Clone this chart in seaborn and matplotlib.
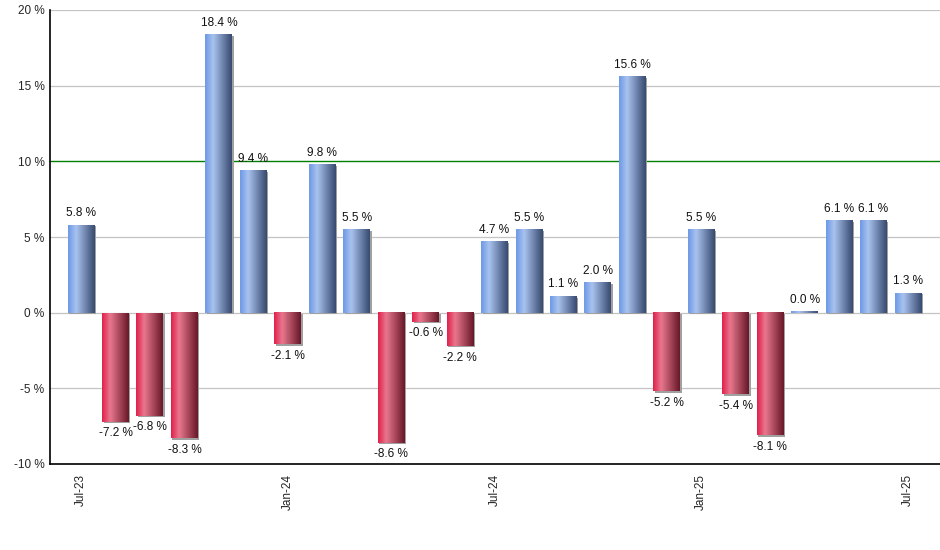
import matplotlib.pyplot as plt
import matplotlib.transforms as mtransforms
from matplotlib.colors import LinearSegmentedColormap
import seaborn as sns
import numpy as np
import pandas as pd

plt.switch_backend('Agg')

months = ['Jul-23', 'Aug-23', 'Sep-23', 'Oct-23', 'Nov-23', 'Dec-23',
          'Jan-24', 'Feb-24', 'Mar-24', 'Apr-24', 'May-24', 'Jun-24',
          'Jul-24', 'Aug-24', 'Sep-24', 'Oct-24', 'Nov-24', 'Dec-24',
          'Jan-25', 'Feb-25', 'Mar-25', 'Apr-25', 'May-25', 'Jun-25',
          'Jul-25']
returns = [5.8, -7.2, -6.8, -8.3, 18.4, 9.4,
           -2.1, 9.8, 5.5, -8.6, -0.6, -2.2,
           4.7, 5.5, 1.1, 2.0, 15.6, -5.2,
           5.5, -5.4, -8.1, 0.0, 6.1, 6.1,
           1.3]
tick_months = ['Jul-23', 'Jan-24', 'Jul-24', 'Jan-25', 'Jul-25']
target = 10

df = pd.DataFrame({'month': months, 'ret': returns})

sns.set_style('white')
plt.rcParams['font.family'] = ['Liberation Sans', 'DejaVu Sans']

fig = plt.figure(figsize=(9.4, 5.5), dpi=100)
ax = fig.add_axes([50 / 940, 86 / 550, 890 / 940, 454 / 550])

sns.barplot(data=df, x='month', y='ret', order=months, width=0.78,
            color='#a0a0a0', ax=ax, zorder=3)

blue_cmap = LinearSegmentedColormap.from_list(
    'blue', [(0, '#6d99e6'), (0.3, '#a9c3ef'), (1, '#384a70')])
red_cmap = LinearSegmentedColormap.from_list(
    'red', [(0, '#e0204a'), (0.3, '#e9788f'), (1, '#681828')])
grad = np.linspace(0, 1, 64).reshape(1, -1)

# gray base patch is shifted to act as a drop shadow
shadow = mtransforms.offset_copy(ax.transData, fig=fig, x=1.5, y=-1.5, units='dots')

for patch, val in zip(ax.patches, returns):
    x0 = patch.get_x()
    w = patch.get_width()
    y0, y1 = sorted([0, val])
    if y1 - y0 < 0.08:
        y1 = y0 + 0.08
    patch.set_transform(shadow)
    patch.set_linewidth(0)
    cmap = blue_cmap if val >= 0 else red_cmap
    ax.imshow(grad, cmap=cmap, aspect='auto', extent=[x0, x0 + w, y0, y1],
              zorder=4, interpolation='bicubic')
    if val >= 0:
        ax.annotate(f'{val:.1f} %', (x0 + w / 2, y1), xytext=(0, 4),
                    textcoords='offset points', ha='center', va='bottom',
                    fontsize=8.5, color='#111111', zorder=5)
    else:
        ax.annotate(f'{val:.1f} %', (x0 + w / 2, y0), xytext=(0, -4),
                    textcoords='offset points', ha='center', va='top',
                    fontsize=8.5, color='#111111', zorder=5)

for yv in [-5, 0, 5, 15, 20]:
    ax.axhline(yv, color='#c4c4c4', linewidth=0.9, zorder=1)
ax.axhline(target, color='#008000', linewidth=1.0, zorder=2)

ax.set_xlim(-0.9, 24.93)
ax.set_ylim(-10, 20)
ax.set_yticks(range(-10, 21, 5))
ax.set_yticklabels([f'{v} %' for v in range(-10, 21, 5)], fontsize=8.5)
ax.set_xticks([months.index(m) for m in tick_months])
ax.set_xticklabels(tick_months, rotation=90, fontsize=8.5)
ax.tick_params(axis='x', direction='out', length=4, width=1, color='black', pad=3)
ax.tick_params(axis='y', length=0, pad=4)
ax.set_xlabel('')
ax.set_ylabel('')

for side in ['top', 'right']:
    ax.spines[side].set_visible(False)
for side in ['left', 'bottom']:
    ax.spines[side].set_color('black')
    ax.spines[side].set_linewidth(1.2)
    ax.spines[side].set_zorder(6)

fig.savefig('out.png', dpi=100)
plt.close(fig)
